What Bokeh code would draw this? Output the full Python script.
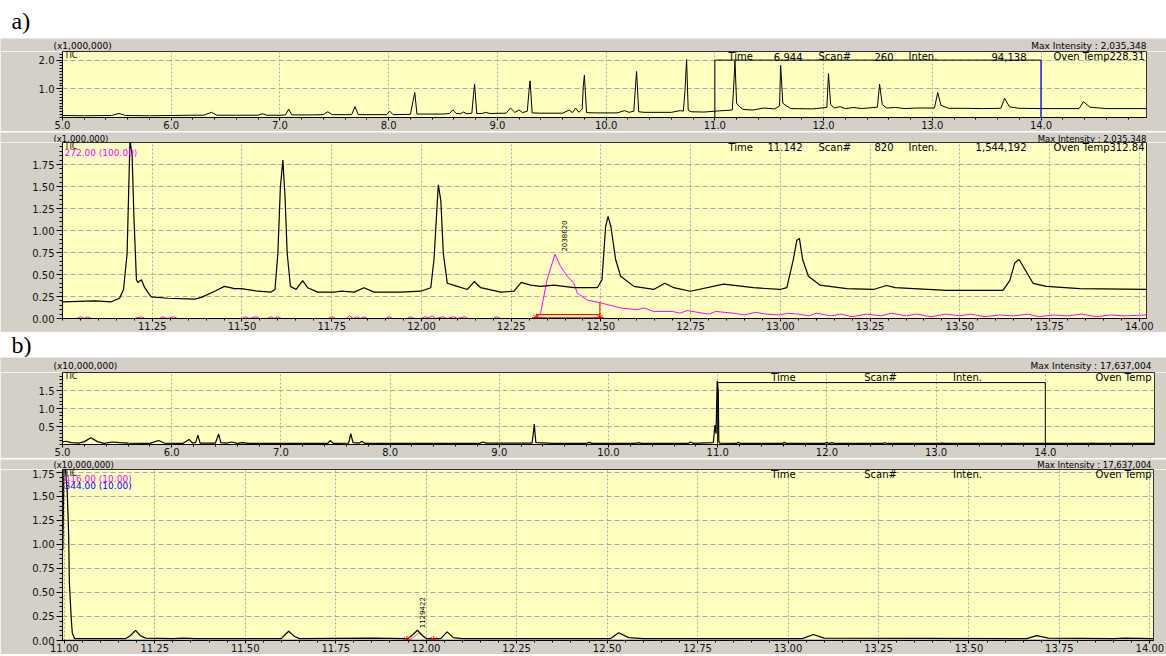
import math
import numpy as np
from bokeh.plotting import figure
from bokeh.layouts import column
from bokeh.models import Label, FixedTicker, PrintfTickFormatter, Range1d
from bokeh.embed import file_html
from bokeh.resources import INLINE

# ---------------- data ----------------
# a) overview TIC, intensity in units of 1,000,000
a1_time = [5.00, 5.20, 5.45, 5.52, 5.58, 5.80, 6.00, 6.20, 6.30, 6.37, 6.42, 6.60, 6.80, 6.84, 6.88,
           7.00, 7.05, 7.08, 7.11, 7.30, 7.40, 7.44, 7.48, 7.60, 7.66, 7.69, 7.72, 7.90, 7.98, 8.01,
           8.04, 8.20, 8.225, 8.24, 8.26, 8.50, 8.56, 8.59, 8.62, 8.66, 8.69, 8.72, 8.765, 8.78, 8.79,
           8.81, 8.86, 8.89, 8.93, 9.08, 9.12, 9.16, 9.20, 9.23, 9.275, 9.29, 9.30, 9.32, 9.40, 9.60,
           9.66, 9.69, 9.72, 9.75, 9.78, 9.79, 9.80, 9.82, 9.90, 10.10, 10.17, 10.21, 10.255, 10.27,
           10.28, 10.30, 10.35, 10.60, 10.68, 10.71, 10.725, 10.74, 10.755, 10.78, 10.90, 11.00, 11.16,
           11.175, 11.185, 11.20, 11.22, 11.26, 11.35, 11.45, 11.55, 11.595, 11.605, 11.625, 11.66,
           11.70, 11.90, 12.03, 12.045, 12.065, 12.10, 12.15, 12.20, 12.28, 12.35, 12.495, 12.515,
           12.54, 12.58, 12.66, 12.75, 12.85, 13.02, 13.05, 13.08, 13.15, 13.30, 13.45, 13.63, 13.665,
           13.71, 13.80, 14.00, 14.35, 14.39, 14.45, 14.60, 14.97]
a1_inten = [0.07, 0.06, 0.07, 0.14, 0.07, 0.06, 0.07, 0.08, 0.08, 0.18, 0.08, 0.08, 0.08, 0.13, 0.08,
            0.08, 0.09, 0.29, 0.09, 0.09, 0.10, 0.20, 0.10, 0.10, 0.10, 0.38, 0.10, 0.10, 0.10, 0.22,
            0.10, 0.11, 0.60, 0.87, 0.12, 0.12, 0.14, 0.27, 0.14, 0.13, 0.19, 0.13, 0.15, 0.80, 1.16,
            0.14, 0.14, 0.18, 0.14, 0.15, 0.33, 0.18, 0.26, 0.17, 0.22, 0.90, 1.28, 0.16, 0.15, 0.15,
            0.26, 0.17, 0.33, 0.18, 0.30, 1.10, 1.47, 0.17, 0.16, 0.16, 0.24, 0.18, 0.22, 1.10,
            1.60, 0.20, 0.18, 0.18, 0.24, 0.22, 0.90, 2.02, 0.25, 0.20, 0.19, 0.22, 0.26,
            1.20, 1.97, 0.50, 0.40, 0.28, 0.26, 0.33, 0.30, 0.40, 1.82, 0.50, 0.40,
            0.31, 0.30, 0.35, 1.53, 0.45, 0.33, 0.38, 0.31, 0.35, 0.31, 0.36, 1.16,
            0.45, 0.33, 0.35, 0.31, 0.33, 0.33, 0.87, 0.42, 0.32, 0.32, 0.31, 0.32, 0.67,
            0.37, 0.32, 0.31, 0.31, 0.55, 0.36, 0.31, 0.31]
a_zoom_window = [11.0, 14.0]
a_zoom_window_top = 2.0

# a) zoomed TIC (x1,000,000)
a2_time = [11.000, 11.090, 11.136, 11.159, 11.170, 11.180, 11.188, 11.194, 11.199, 11.206, 11.210,
           11.220, 11.229, 11.247, 11.294, 11.368, 11.387, 11.424, 11.451, 11.479, 11.498, 11.544,
           11.581, 11.592, 11.600, 11.607, 11.614, 11.620, 11.626, 11.635, 11.651, 11.669, 11.683,
           11.711, 11.757, 11.775, 11.813, 11.840, 11.868, 11.943, 11.998, 12.026, 12.035, 12.047,
           12.054, 12.061, 12.072, 12.100, 12.128, 12.147, 12.165, 12.221, 12.258, 12.278, 12.304,
           12.332, 12.369, 12.425, 12.490, 12.503, 12.513, 12.520, 12.528, 12.541, 12.555, 12.592,
           12.647, 12.678, 12.703, 12.749, 12.842, 12.925, 12.999, 13.018, 13.036, 13.046, 13.053,
           13.062, 13.078, 13.110, 13.185, 13.259, 13.296, 13.320, 13.463, 13.620, 13.639, 13.653,
           13.665, 13.681, 13.704, 13.741, 13.834, 14.020]
a2_tic = [0.19, 0.20, 0.19, 0.23, 0.33, 0.74, 2.03, 1.85, 1.15, 0.44, 0.41,
          0.44, 0.35, 0.245, 0.23, 0.22, 0.24, 0.31, 0.365, 0.34, 0.34, 0.31,
          0.30, 0.33, 0.74, 1.49, 1.80, 1.38, 0.74, 0.365, 0.33, 0.43, 0.35,
          0.30, 0.30, 0.31, 0.30, 0.35, 0.30, 0.30, 0.31, 0.35, 0.67, 1.52,
          1.34, 0.74, 0.40, 0.365, 0.33, 0.42, 0.35, 0.30, 0.31, 0.41, 0.38,
          0.365, 0.38, 0.35, 0.35, 0.44, 1.04, 1.16, 1.04, 0.67, 0.48, 0.365,
          0.33, 0.40, 0.35, 0.31, 0.39, 0.35, 0.33, 0.35, 0.67, 0.89, 0.91,
          0.67, 0.48, 0.38, 0.34, 0.33, 0.375, 0.35, 0.32, 0.32, 0.43, 0.63,
          0.67, 0.56, 0.40, 0.365, 0.34, 0.33]
# m/z 272.00 (x100)
a2_mz_time = [11.00, 11.04, 11.05, 11.06, 11.07, 11.08, 11.20, 11.22, 11.23, 11.27, 11.28, 11.29,
              11.31, 11.32, 11.50, 11.51, 11.52, 11.54, 11.55, 11.57, 11.58, 11.59, 11.60, 11.61,
              11.74, 11.75, 11.76, 11.79, 11.80, 11.81, 11.82, 11.83, 11.84, 11.85, 11.90, 11.91,
              11.92, 11.96, 11.97, 11.98, 12.00, 12.01, 12.02, 12.03, 12.04, 12.06, 12.07, 12.09,
              12.10, 12.12, 12.13, 12.20, 12.21, 12.22, 12.31, 12.318, 12.332, 12.350, 12.372,
              12.388, 12.406, 12.425, 12.434, 12.462, 12.497, 12.555, 12.60, 12.62, 12.647, 12.70,
              12.72, 12.74, 12.777, 12.80, 12.82, 12.87, 12.90, 12.93, 12.96, 13.00, 13.02, 13.05,
              13.08, 13.10, 13.14, 13.17, 13.20, 13.24, 13.28, 13.31, 13.35, 13.38, 13.42, 13.46,
              13.50, 13.53, 13.57, 13.61, 13.65, 13.69, 13.72, 13.76, 13.80, 13.84, 13.88, 13.92,
              13.96, 14.02]
a2_mz_inten = [0.00, 0.00, 0.02, 0.00, 0.02, 0.00, 0.00, 0.02, 0.00, 0.00, 0.02, 0.00,
               0.02, 0.00, 0.00, 0.02, 0.00, 0.02, 0.00, 0.00, 0.02, 0.00, 0.02, 0.00,
               0.00, 0.02, 0.00, 0.00, 0.03, 0.00, 0.02, 0.00, 0.02, 0.00, 0.00, 0.02,
               0.00, 0.00, 0.02, 0.00, 0.00, 0.02, 0.01, 0.03, 0.00, 0.02, 0.00, 0.02,
               0.00, 0.02, 0.00, 0.00, 0.02, 0.00, 0.00, 0.01, 0.06, 0.44, 0.73,
               0.59, 0.48, 0.40, 0.29, 0.21, 0.18, 0.12, 0.10, 0.12, 0.08, 0.08,
               0.06, 0.09, 0.065, 0.05, 0.08, 0.06, 0.04, 0.07, 0.05, 0.04, 0.06, 0.05,
               0.03, 0.06, 0.03, 0.05, 0.02, 0.05, 0.03, 0.06, 0.03, 0.05, 0.02, 0.05,
               0.03, 0.05, 0.02, 0.04, 0.03, 0.05, 0.02, 0.04, 0.03, 0.05, 0.02, 0.04,
               0.03, 0.04]
a2_peak_label = "2038620"
a2_peak_apex = [12.372, 0.73]
a2_integration = [12.32, 12.497]
a2_integration_top = 0.18

# b) overview TIC (x10,000,000)
b1_time = [5.00, 5.03, 5.08, 5.15, 5.20, 5.26, 5.32, 5.38, 5.46, 5.52, 5.60, 5.80, 5.88, 5.93,
           6.10, 6.16, 6.19, 6.22, 6.24, 6.26, 6.40, 6.42, 6.43, 6.45, 6.50, 6.55, 6.60, 6.65,
           6.70, 7.00, 7.20, 7.43, 7.45, 7.48, 7.62, 7.64, 7.66, 7.72, 7.74, 7.77, 8.00, 8.30,
           8.82, 8.85, 8.88, 9.30, 9.315, 9.32, 9.335, 9.50, 9.80, 9.82, 9.85, 10.25, 10.27,
           10.30, 10.73, 10.75, 10.78, 10.96, 10.975, 10.985, 10.995, 11.005, 11.01, 11.02,
           11.17, 11.19, 11.21, 11.59, 11.61, 11.63, 11.98, 12.00, 12.02, 12.05, 12.07, 12.51,
           12.53, 12.55, 13.03, 13.06, 13.09, 13.70, 14.40, 14.43, 14.46, 15.00]
b1_inten = [0.07, 0.09, 0.05, 0.04, 0.08, 0.19, 0.08, 0.03, 0.07, 0.05, 0.04, 0.03, 0.11, 0.04,
            0.03, 0.14, 0.04, 0.06, 0.26, 0.04, 0.04, 0.20, 0.29, 0.05, 0.04, 0.07, 0.03, 0.05,
            0.03, 0.03, 0.03, 0.03, 0.11, 0.03, 0.04, 0.30, 0.05, 0.04, 0.09, 0.03, 0.03, 0.03,
            0.03, 0.07, 0.04, 0.04, 0.40, 0.57, 0.05, 0.03, 0.03, 0.06, 0.03, 0.03, 0.05,
            0.03, 0.03, 0.07, 0.03, 0.05, 0.54, 0.30, 1.76, 1.50, 0.10, 0.04,
            0.03, 0.06, 0.03, 0.03, 0.06, 0.03, 0.03, 0.06, 0.03, 0.05, 0.03, 0.03,
            0.05, 0.03, 0.03, 0.04, 0.03, 0.03, 0.03, 0.04, 0.03, 0.03]
b_zoom_window = [11.0, 14.0]
b_zoom_window_top = 1.72

# b) zoomed TIC (x10,000,000)
b2_time = [10.996, 10.999, 11.003, 11.008, 11.012, 11.014, 11.019, 11.022, 11.028, 11.10, 11.17,
           11.182, 11.197, 11.21, 11.225, 11.30, 11.33, 11.36, 11.60, 11.607, 11.62, 11.635, 11.65,
           11.85, 11.95, 11.963, 11.976, 11.99, 12.00, 12.04, 12.058, 12.075, 12.10, 12.51, 12.532,
           12.56, 12.60, 13.04, 13.07, 13.10, 13.66, 13.687, 13.72, 13.90, 13.93, 14.01]
b2_tic = [0.94, 1.80, 1.78, 1.56, 1.10, 0.60, 0.24, 0.08, 0.02, 0.02, 0.02,
          0.05, 0.105, 0.05, 0.025, 0.02, 0.025, 0.02, 0.02, 0.05, 0.096, 0.045, 0.02,
          0.025, 0.02, 0.06, 0.107, 0.05, 0.02, 0.02, 0.09, 0.03, 0.02, 0.02, 0.08,
          0.03, 0.02, 0.02, 0.063, 0.025, 0.02, 0.05, 0.025, 0.02, 0.025, 0.02]
# m/z 416.00 (x10)
b2_mz1_time = [10.996, 11.94, 11.956, 11.98, 11.995, 12.012, 14.01]
b2_mz1_inten = [0.0, 0.0, 0.01, 0.075, 0.04, 0.0, 0.0]
# m/z 344.00 (x10)
b2_mz2_time = [10.996, 14.01]
b2_mz2_inten = [0.0, 0.0]
b2_peak_label = "1129422"
b2_peak_apex = [11.976, 0.107]
b2_integration = [11.947, 12.021]

# header texts
a1_header = ["Time", "6.944", "Scan#", "260", "Inten.", "94,138", "Oven Temp228.31"]
a2_header = ["Time", "11.142", "Scan#", "820", "Inten.", "1,544,192", "Oven Temp312.84"]
b_header = ["Time", "Scan#", "Inten.", "Oven Temp"]
a_scale = "(x1,000,000)"
b_scale = "(x10,000,000)"
a_max = "Max Intensity : 2,035,348"
b_max = "Max Intensity : 17,637,004"

# ---------------- styling ----------------
GRAY = "#d4d0c8"
YELLOW = "#ffffc0"
FONT = "DejaVu Sans"
W = 1166
FRAME_LEFT = 62


class Panel:
    def __init__(self, top, height, bb, right, xr, yr):
        self.L = FRAME_LEFT
        self.R = right
        self.T = top
        self.B = top + height - bb
        self.xr, self.yr = xr, yr
        self.p = figure(width=W, height=height, x_range=Range1d(*xr), y_range=Range1d(*yr),
                        output_backend="svg", toolbar_location=None, frame_align=False,
                        min_border_left=FRAME_LEFT, min_border_right=W - right,
                        min_border_top=0, min_border_bottom=bb,
                        background_fill_color=YELLOW, border_fill_color=GRAY,
                        outline_line_color="#303030")

    def dx(self, px):
        return self.xr[0] + (px - self.L) / (self.R - self.L) * (self.xr[1] - self.xr[0])

    def dy(self, py):
        return self.yr[0] + (self.B - py) / (self.B - self.T) * (self.yr[1] - self.yr[0])

    def label(self, px, py, text, align="left", color="black", size="10px", angle=0.0,
              baseline="middle", data=False):
        x, y = (px, py) if data else (self.dx(px), self.dy(py))
        self.p.add_layout(Label(x=x, y=y, text=text, text_align=align, text_baseline=baseline,
                                text_color=color, text_font=FONT, text_font_size=size,
                                angle=angle))

    def axes(self, xt, xminor, xfmt, yt, yminor, yfmt):
        p = self.p
        p.xaxis.ticker = FixedTicker(ticks=xt, minor_ticks=xminor)
        p.yaxis.ticker = FixedTicker(ticks=yt, minor_ticks=yminor)
        p.xaxis.formatter = PrintfTickFormatter(format=xfmt)
        p.yaxis.formatter = PrintfTickFormatter(format=yfmt)
        for ax in (p.xaxis, p.yaxis):
            ax.axis_line_color = "black"
            ax.major_tick_line_color = "black"
            ax.minor_tick_line_color = "black"
            ax.major_tick_in = 0
            ax.minor_tick_in = 0
            ax.major_label_text_font = FONT
            ax.major_label_text_font_size = "10px"
            ax.major_label_text_color = "#101010"
        p.xaxis.major_tick_out = 3
        p.xaxis.minor_tick_out = 2
        p.xaxis.major_label_standoff = 0
        p.yaxis.major_tick_out = 6
        p.yaxis.minor_tick_out = 3
        p.yaxis.major_label_standoff = 2
        p.xgrid.grid_line_color = "#a8a8a8"
        p.xgrid.grid_line_dash = "2 2"
        p.ygrid.grid_line_color = "#a8a8a8"
        p.ygrid.grid_line_dash = "5 3"


def blank_fig(top, height, fill):
    p = figure(width=W, height=height, x_range=Range1d(0, W),
               y_range=Range1d(top + height, top), output_backend="svg",
               toolbar_location=None, frame_align=False, min_border=0,
               min_border_left=0, min_border_right=0, min_border_top=0, min_border_bottom=0,
               x_axis_location=None, y_axis_location=None, background_fill_color=fill,
               border_fill_color=fill, outline_line_color=None)
    p.grid.visible = False
    return p


def letter_fig(top, height, text, cy):
    p = blank_fig(top, height, "white")
    p.add_layout(Label(x=11, y=cy, text=text, text_font="Liberation Serif",
                       text_font_size="24px", text_baseline="middle", text_color="black"))
    return p


def strip_fig(top, height, cy, left_text, right_text, right_px, size="9px"):
    p = blank_fig(top, height, GRAY)
    p.add_layout(Label(x=53, y=cy, text=left_text, text_font=FONT, text_font_size=size,
                       text_baseline="middle", text_color="black"))
    p.add_layout(Label(x=right_px, y=cy, text=right_text, text_font=FONT,
                       text_font_size=size, text_baseline="middle", text_align="right",
                       text_color="black"))
    return p


# ---------------- a) ----------------
f0 = letter_fig(0, 38, "a)", 20)
sa1 = strip_fig(38, 13, 45, a_scale, a_max, 1146)

A1 = Panel(51, 80, 14, 1146, (5.0, 14.97), (0.0, 2.3))
A1.axes(list(np.arange(5.0, 14.5, 1.0)), list(np.arange(5.0, 15.0, 0.2)), "%.1f",
        [1.0, 2.0], list(np.arange(0.0, 2.3, 0.1)), "%.1f")
A1.p.line(a1_time, a1_inten, line_color="black", line_width=1)
A1.p.line([a_zoom_window[0], a_zoom_window[0], a_zoom_window[1]],
          [0, a_zoom_window_top, a_zoom_window_top], line_color="black", line_width=1)
A1.p.line([a_zoom_window[1], a_zoom_window[1]], [a_zoom_window_top, 0],
          line_color="#2020c0", line_width=1.5)
A1.label(64, A1.T + 4, "TIC", size="8px")
hx = [(728, "left"), (802, "right"), (818, "left"), (893, "right"), (908, "left"),
      (1026, "right"), (1144, "right")]
for (px, al), t in zip(hx, a1_header):
    A1.label(px, A1.T + 5, t, align=al)

sa2 = strip_fig(131, 11, 137, a_scale, a_max, 1146, size="8.5px")

A2 = Panel(142, 190, 13, 1146, (11.0, 14.02), (0.0, 2.0))
A2.axes(list(np.arange(11.25, 14.01, 0.25)), list(np.arange(11.0, 14.02, 0.05)), "%.2f",
        list(np.arange(0.0, 1.76, 0.25)), list(np.arange(0.0, 2.0, 0.05)), "%.2f")
A2.p.line(a2_mz_time, a2_mz_inten, line_color="#ff00ff", line_width=1)
A2.p.line(a2_time, a2_tic, line_color="black", line_width=1.2)
A2.p.line([a2_integration[0], a2_integration[1]], [0.045, 0.045], line_color="red", line_width=1)
A2.p.line([a2_integration[0], a2_integration[1]], [0.008, 0.008], line_color="red", line_width=1)
A2.p.line([a2_integration[1], a2_integration[1]], [0.0, a2_integration_top],
          line_color="red", line_width=1)
A2.p.scatter(a2_integration, [0.01, 0.01], marker="asterisk", size=8, line_color="red")
A2.label(a2_peak_apex[0] + 0.025, a2_peak_apex[1] + 0.03, a2_peak_label, size="7px",
         angle=math.pi / 2, baseline="middle", data=True)
A2.label(64, A2.T + 4, "TIC", size="8px")
A2.label(64, A2.T + 11, "272.00 (100.00)", color="#ff00ff", size="9px")
for (px, al), t in zip(hx, a2_header):
    A2.label(px, A2.T + 5, t, align=al)

# ---------------- b) ----------------
f3 = letter_fig(332, 25, "b)", 344.5)
sb1 = strip_fig(357, 15, 365, b_scale, b_max, 1151)

B1 = Panel(372, 86, 11, 1154, (5.0, 15.0), (0.0, 2.0))
B1.axes(list(np.arange(5.0, 14.5, 1.0)), list(np.arange(5.0, 15.0, 0.2)), "%.1f",
        [0.5, 1.0, 1.5], list(np.arange(0.0, 2.0, 0.1)), "%.1f")
B1.p.line(b1_time, b1_inten, line_color="black", line_width=1.2)
B1.p.line([b_zoom_window[0], b_zoom_window[0], b_zoom_window[1], b_zoom_window[1]],
          [0, b_zoom_window_top, b_zoom_window_top, 0], line_color="black", line_width=1)
B1.label(64, B1.T + 4, "TIC", size="8px")
bx = [(783, "center"), (880, "center"), (967, "center"), (1151, "right")]
for (px, al), t in zip(bx, b_header):
    B1.label(px, B1.T + 5, t, align=al)

sb2 = strip_fig(458, 11, 463.5, b_scale, b_max, 1151, size="8.5px")

B2 = Panel(469, 185, 13, 1153, (10.995, 14.01), (0.0, 1.78))
B2.axes(list(np.arange(11.0, 14.01, 0.25)), list(np.arange(11.0, 14.01, 0.05)), "%.2f",
        list(np.arange(0.0, 1.76, 0.25)), list(np.arange(0.0, 1.78, 0.05)), "%.2f")
B2.p.line(b2_mz2_time, b2_mz2_inten, line_color="#0000ff", line_width=1.5)
B2.p.line(b2_mz1_time, b2_mz1_inten, line_color="#ff00ff", line_width=1, line_alpha=0.7)
B2.p.line(b2_time, b2_tic, line_color="black", line_width=1.2)
B2.p.scatter(b2_integration, [0.005, 0.005], marker="asterisk", size=8, line_color="red")
B2.label(b2_peak_apex[0] + 0.012, b2_peak_apex[1] + 0.02, b2_peak_label, size="7px",
         angle=math.pi / 2, baseline="middle", data=True)
B2.label(64, B2.T + 4, "TIC", size="8px")
B2.label(64, B2.T + 10, "416.00 (10.00)", color="#ff00ff", size="9px")
B2.label(64, B2.T + 17, "344.00 (10.00)", color="#0000ff", size="9px")
for (px, al), t in zip(bx, b_header):
    B2.label(px, B2.T + 5, t, align=al)

layout = column(f0, sa1, A1.p, sa2, A2.p, f3, sb1, B1.p, sb2, B2.p, spacing=0)
open("out.html", "w").write(file_html(layout, INLINE))
